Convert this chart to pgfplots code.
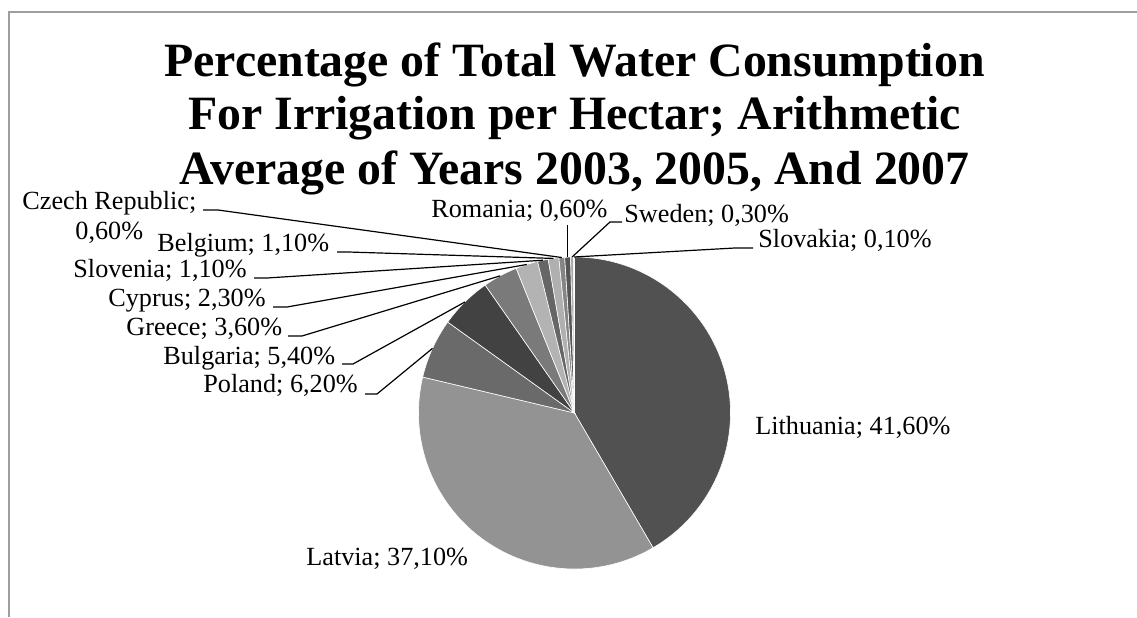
\documentclass[border=0pt]{standalone}
\usepackage{pgfplots}
\pgfplotsset{compat=1.18}
\usepackage{pgfplotstable}
\usepackage{fontspec}
\setmainfont{Liberation Serif}

\pgfplotstableread[col sep=comma]{
name,value
Lithuania,41.6
Latvia,37.1
Poland,6.2
Bulgaria,5.4
Greece,3.6
Cyprus,2.3
Slovenia,1.1
Belgium,1.1
Czech Republic,0.6
Romania,0.6
Sweden,0.3
Slovakia,0.1
}\piedata

\definecolor{c0}{HTML}{515151}
\definecolor{c1}{HTML}{939393}
\definecolor{c2}{HTML}{6A6A6A}
\definecolor{c3}{HTML}{424242}
\definecolor{c4}{HTML}{7A7A7A}
\definecolor{c5}{HTML}{B3B3B3}
\definecolor{c6}{HTML}{666666}
\definecolor{c7}{HTML}{B0B0B0}
\definecolor{c8}{HTML}{858585}
\definecolor{c9}{HTML}{555555}
\definecolor{c10}{HTML}{A8A8A8}
\definecolor{c11}{HTML}{D0D0D0}
\definecolor{framegray}{HTML}{9E9E9E}

\tikzset{leader/.style={black, line width=0.6pt}}
\newcommand\getv[2]{\csname #1#2\endcsname}
\newcommand\lbl{\fontsize{13.1}{15}\selectfont}
\newcommand\ttl{\fontsize{23.9}{27}\selectfont\bfseries}

% cumulative angles (clockwise from 12 o'clock)
\gdef\cum{0}%
\foreach \i in {0,...,11}{%
  \pgfplotstablegetelem{\i}{value}\of\piedata
  \let\v\pgfplotsretval
  \pgfmathsetmacro\sa{90-3.6*\cum}%
  \pgfmathsetmacro\ea{90-3.6*(\cum+\v)}%
  \pgfmathsetmacro\ma{(\sa+\ea)/2}%
  \expandafter\xdef\csname sa\i\endcsname{\sa}%
  \expandafter\xdef\csname ea\i\endcsname{\ea}%
  \expandafter\xdef\csname ma\i\endcsname{\ma}%
  \pgfmathsetmacro\nc{\cum+\v}%
  \xdef\cum{\nc}%
}%

\begin{document}%
\begin{tikzpicture}
\begin{axis}[name=ax,
  scale only axis, width=568.5pt, height=308.5pt,
  xmin=0, xmax=1137, ymin=0, ymax=617,
  hide axis, clip=false,
]
% frame
\draw[framegray, line width=1pt] (axis cs:9,0) -- (axis cs:9,605) -- (axis cs:1137,605);
% slices
\pgfplotsinvokeforeach{0,...,11}{
  \filldraw[fill=c#1, draw=white, line width=0.3pt]
    (axis cs:574.5,204) --
    (axis cs:{574.5+156*cos(\getv{sa}{#1})},{204+156*sin(\getv{sa}{#1})})
    arc[start angle=\getv{sa}{#1}, end angle=\getv{ea}{#1}, radius=78pt] -- cycle;
}
% title
\node[anchor=base, inner sep=0] at (axis cs:574.5,540) {\ttl Percentage of Total Water Consumption};
\node[anchor=base, inner sep=0] at (axis cs:574.5,487) {\ttl For Irrigation per Hectar; Arithmetic};
\node[anchor=base, inner sep=0] at (axis cs:574.5,432) {\ttl Average of Years 2003, 2005, And 2007};
% leaders
\draw[leader] (axis cs:203,407) -- (axis cs:218,407) -- (axis cs:{574.5+156*cos(\getv{ma}{8})},{204+156*sin(\getv{ma}{8})});
\draw[leader] (axis cs:337,365) -- (axis cs:348,365) -- (axis cs:{574.5+156*cos(\getv{ma}{7})},{204+156*sin(\getv{ma}{7})});
\draw[leader] (axis cs:254,339) -- (axis cs:267,339) -- (axis cs:{574.5+156*cos(\getv{ma}{6})},{204+156*sin(\getv{ma}{6})});
\draw[leader] (axis cs:273,310) -- (axis cs:287,310) -- (axis cs:{574.5+156*cos(\getv{ma}{5})},{204+156*sin(\getv{ma}{5})});
\draw[leader] (axis cs:288,281) -- (axis cs:302,281) -- (axis cs:{574.5+156*cos(\getv{ma}{4})},{204+156*sin(\getv{ma}{4})});
\draw[leader] (axis cs:342,253) -- (axis cs:353,253) -- (axis cs:{574.5+156*cos(\getv{ma}{3})},{204+156*sin(\getv{ma}{3})});
\draw[leader] (axis cs:365,223) -- (axis cs:377,223) -- (axis cs:{574.5+156*cos(\getv{ma}{2})},{204+156*sin(\getv{ma}{2})});
\draw[leader] (axis cs:{574.5+156*cos(\getv{ma}{9})},392) -- (axis cs:{574.5+156*cos(\getv{ma}{9})},{204+156*sin(\getv{ma}{9})});
\draw[leader] (axis cs:622,395) -- (axis cs:610,395) -- (axis cs:{574.5+156*cos(\getv{ma}{10})},{204+156*sin(\getv{ma}{10})});
\draw[leader] (axis cs:753,369) -- (axis cs:735,369) -- (axis cs:{574.5+156*cos(\getv{ma}{11})},{204+156*sin(\getv{ma}{11})});
% labels
\node[anchor=base west, inner sep=0] at (axis cs:22,407) {\lbl Czech Republic;};
\node[anchor=base west, inner sep=0] at (axis cs:75,377) {\lbl 0,60\%};
\node[anchor=base west, inner sep=0] at (axis cs:157,365) {\lbl Belgium; 1,10\%};
\node[anchor=base west, inner sep=0] at (axis cs:73,339) {\lbl Slovenia; 1,10\%};
\node[anchor=base west, inner sep=0] at (axis cs:108,310) {\lbl Cyprus; 2,30\%};
\node[anchor=base west, inner sep=0] at (axis cs:126,281) {\lbl Greece; 3,60\%};
\node[anchor=base west, inner sep=0] at (axis cs:163,252) {\lbl Bulgaria; 5,40\%};
\node[anchor=base west, inner sep=0] at (axis cs:203,224) {\lbl Poland; 6,20\%};
\node[anchor=base west, inner sep=0] at (axis cs:431,399) {\lbl Romania; 0,60\%};
\node[anchor=base west, inner sep=0] at (axis cs:624,394) {\lbl Sweden; 0,30\%};
\node[anchor=base west, inner sep=0] at (axis cs:758,369) {\lbl Slovakia; 0,10\%};
\node[anchor=base west, inner sep=0] at (axis cs:755,183) {\lbl Lithuania; 41,60\%};
\node[anchor=base west, inner sep=0] at (axis cs:306,52) {\lbl Latvia; 37,10\%};
\end{axis}
\pgfresetboundingbox
\path[use as bounding box] (ax.south west) rectangle (ax.north east);
\end{tikzpicture}%
\end{document}
